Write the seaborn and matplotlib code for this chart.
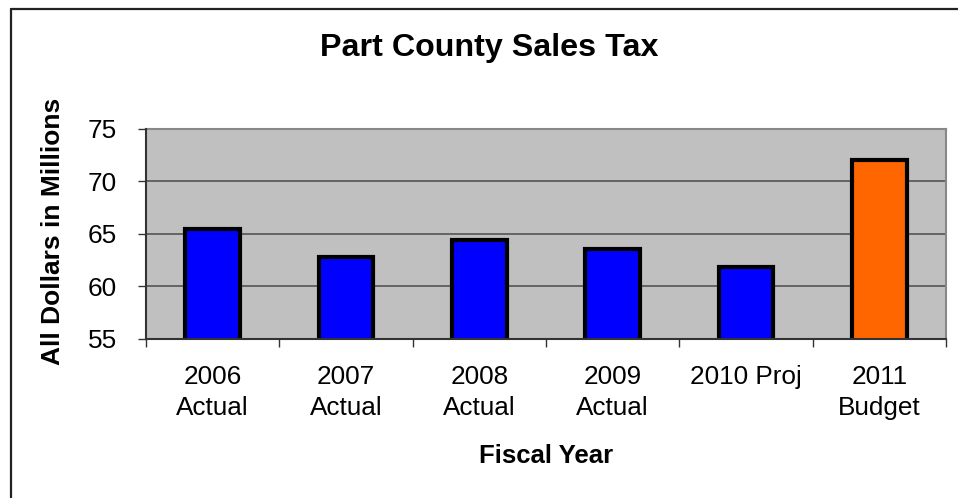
import matplotlib
matplotlib.use("Agg")
import matplotlib.pyplot as plt
from matplotlib.lines import Line2D
import seaborn as sns
import pandas as pd

categories = ["2006\nActual", "2007\nActual", "2008\nActual", "2009\nActual", "2010 Proj", "2011\nBudget"]
values = [65.5, 62.8, 64.4, 63.6, 61.9, 72.0]
bar_colors = ["#0000FF", "#0000FF", "#0000FF", "#0000FF", "#0000FF", "#FF6600"]
y_ticks = [55, 60, 65, 70, 75]

sns.set_style("white")
plt.rcParams["font.family"] = ["Liberation Sans", "DejaVu Sans"]
plt.rcParams["text.color"] = "black"
plt.rcParams["xtick.color"] = "#333333"
plt.rcParams["ytick.color"] = "#333333"
plt.rcParams["xtick.labelcolor"] = "black"
plt.rcParams["ytick.labelcolor"] = "black"

W, H = 958, 498
fig = plt.figure(figsize=(W / 100, H / 100), dpi=100)
left, right, top, bottom = 146, 946, 129, 339
ax = fig.add_axes([left / W, 1 - bottom / H, (right - left) / W, (bottom - top) / H])

df = pd.DataFrame({"year": categories, "tax": values})
sns.barplot(data=df, x="year", y="tax", hue="year", palette=bar_colors,
            saturation=1, legend=False, width=0.41, edgecolor="black",
            linewidth=3, ax=ax, zorder=3)

ax.set_facecolor("#C0C0C0")
ax.set_ylim(55, 75)
ax.set_xlim(-0.5, len(categories) - 0.5)
ax.set_yticks(y_ticks)
ax.set_yticklabels([str(t) for t in y_ticks])

# horizontal gridlines
for t in y_ticks[1:-1]:
    ax.axhline(t, color="#555555", lw=1.2, zorder=1)

# spines
for s in ["left", "bottom"]:
    ax.spines[s].set_color("#333333")
    ax.spines[s].set_linewidth(1.5)
for s in ["top", "right"]:
    ax.spines[s].set_color("#888888")
    ax.spines[s].set_linewidth(1.5)
ax.spines["left"].set_zorder(5)
ax.spines["bottom"].set_zorder(5)

# x labels centred, separator ticks between categories
ax.set_xticks(range(len(categories)))
ax.set_xticklabels(categories, fontsize=18.8, linespacing=1.33, color="black")
ax.tick_params(axis="x", which="major", length=0, pad=19, bottom=True)
ax.set_xticks([i - 0.5 for i in range(len(categories) + 1)], minor=True)
ax.tick_params(axis="x", which="minor", length=6, width=1, color="#333333",
               direction="out", bottom=True)
ax.tick_params(axis="y", which="major", length=6, width=1, color="#333333",
               direction="out", labelsize=18.8, pad=15, left=True,
               labelcolor="black")

ax.set_xlabel("")
ax.set_ylabel("")

fig.text(0.511, 1 - 48 / H, "Part County Sales Tax", fontsize=23.2,
         fontweight="bold", ha="center", va="center", color="black")
fig.text((left + right) / 2 / W, 1 - 456 / H, "Fiscal Year", fontsize=18.5,
         fontweight="bold", ha="center", va="center", color="black")
fig.text(53 / W, 1 - 231 / H, "All Dollars in Millions", fontsize=19,
         fontweight="bold", ha="center", va="center", rotation=90, color="black")

# outer chart frame (runs off the right and bottom edges)
fig.add_artist(Line2D([11 / W, 11 / W], [0, 1 - 9 / H], color="#222222", lw=1.6,
                      transform=fig.transFigure))
fig.add_artist(Line2D([11 / W, 1], [1 - 9 / H, 1 - 9 / H], color="#222222", lw=1.6,
                      transform=fig.transFigure))

fig.savefig("out.png", dpi=100, facecolor="white")
